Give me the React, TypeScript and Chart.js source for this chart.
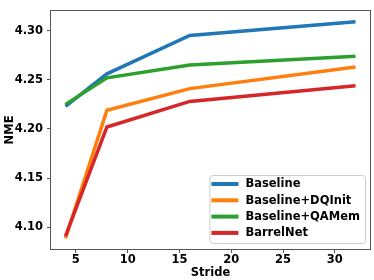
import React, { useEffect, useRef } from "react";
import { Chart, registerables } from "chart.js";

Chart.register(...registerables);

const strides = [4, 8, 16, 32];
const baseline = [4.223, 4.256, 4.295, 4.309];
const dqinit = [4.089, 4.219, 4.241, 4.263];
const qamem = [4.225, 4.252, 4.265, 4.274];
const barrelnet = [4.091, 4.202, 4.228, 4.244];
const seriesLabels = ["Baseline", "Baseline+DQInit", "Baseline+QAMem", "BarrelNet"];
const seriesColors = ["#1f77b4", "#ff7f0e", "#2ca02c", "#d62728"];
const xTicks = [5, 10, 15, 20, 25, 30];
const yTicks = [4.1, 4.15, 4.2, 4.25, 4.3];

const FONT = "DejaVu Sans";
const FS = 11.5;

const framePlugin = {
  id: "frameAndLegend",
  afterDraw(chart: any) {
    const { ctx, chartArea: ca } = chart;
    ctx.save();
    ctx.strokeStyle = "#555";
    ctx.lineWidth = 1;
    ctx.strokeRect(Math.round(ca.left) - 0.5, Math.round(ca.top) - 0.5, Math.round(ca.right - ca.left) + 1, Math.round(ca.bottom - ca.top) + 1);

    // legend
    ctx.font = `bold ${FS}px "${FONT}"`;
    let maxW = 0;
    seriesLabels.forEach((l) => {
      maxW = Math.max(maxW, ctx.measureText(l).width);
    });
    const lw = 2 + 27 + 8 + maxW + 4;
    const lh = 68;
    const right = ca.right - 5;
    const bottom = ca.bottom - 6;
    const left = right - lw;
    const top = bottom - lh;
    ctx.beginPath();
    (ctx as any).roundRect(left + 0.5, top + 0.5, lw, lh, 3);
    ctx.fillStyle = "rgba(255,255,255,0.85)";
    ctx.fill();
    ctx.strokeStyle = "#cccccc";
    ctx.stroke();
    seriesLabels.forEach((l, i) => {
      const y = top + 9 + i * 16.3;
      ctx.beginPath();
      ctx.moveTo(left + 2, y);
      ctx.lineTo(left + 29, y);
      ctx.strokeStyle = seriesColors[i];
      ctx.lineWidth = 4;
      ctx.stroke();
      ctx.fillStyle = "#000";
      ctx.textBaseline = "middle";
      ctx.textAlign = "left";
      ctx.fillText(l, left + 36, y + 0.5);
    });
    ctx.restore();
  },
};

export default function App() {
  const ref = useRef<HTMLCanvasElement>(null);
  useEffect(() => {
    const all = [baseline, dqinit, qamem, barrelnet];
    const chart = new Chart(ref.current!, {
      type: "line",
      data: {
        datasets: all.map((vals, i) => ({
          label: seriesLabels[i],
          data: strides.map((s, j) => ({ x: s, y: vals[j] })),
          borderColor: seriesColors[i],
          backgroundColor: seriesColors[i],
          borderWidth: 3.5,
          pointRadius: 0,
          tension: 0,
          fill: false,
          order: 3 - i,
        })),
      },
      options: {
        animation: false,
        responsive: false,
        maintainAspectRatio: false,
        layout: { padding: { top: 3, right: 4, left: 0, bottom: 0 } },
        plugins: { legend: { display: false }, tooltip: { enabled: false } },
        scales: {
          x: {
            type: "linear",
            min: 2.6,
            max: 33.4,
            afterBuildTicks: (s: any) => {
              s.ticks = xTicks.map((v) => ({ value: v }));
            },
            afterFit: (s: any) => {
              s.height = 31;
            },
            grid: { drawOnChartArea: false, drawTicks: true, tickLength: 4, color: "#555" },
            border: { display: false },
            ticks: {
              color: "#000",
              padding: 0,
              font: { family: FONT, size: FS, weight: "bold" },
              callback: (v: any) => String(v),
            },
            title: {
              display: true,
              text: "Stride",
              color: "#000",
              font: { family: FONT, size: FS, weight: "bold" },
              padding: { top: 0, bottom: 0 },
            },
          },
          y: {
            type: "linear",
            min: 4.078,
            max: 4.32,
            afterBuildTicks: (s: any) => {
              s.ticks = yTicks.map((v) => ({ value: v }));
            },
            afterFit: (s: any) => {
              s.width = 51;
            },
            grid: { drawOnChartArea: false, drawTicks: true, tickLength: 4, color: "#555" },
            border: { display: false },
            ticks: {
              color: "#000",
              padding: 4,
              font: { family: FONT, size: FS, weight: "bold" },
              callback: (v: any) => Number(v).toFixed(2),
            },
            title: {
              display: true,
              text: "NME",
              color: "#000",
              font: { family: FONT, size: FS, weight: "bold" },
              padding: { top: 3, bottom: 0 },
            },
          },
        },
      } as any,
      plugins: [framePlugin],
    });
    return () => chart.destroy();
  }, []);
  return (
    <div style={{ position: "fixed", left: 0, top: 0, width: 374, height: 280, background: "#fff" }}>
      <canvas ref={ref} width={374} height={280} style={{ display: "block" }} />
    </div>
  );
}
